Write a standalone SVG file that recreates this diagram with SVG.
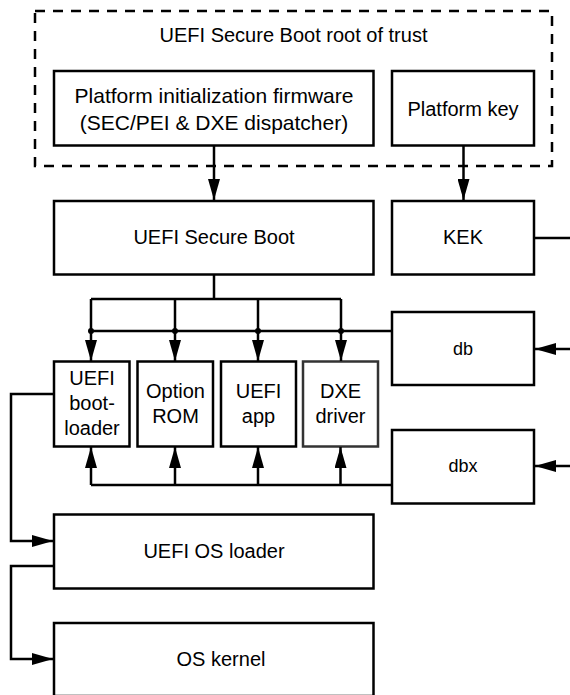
<svg xmlns="http://www.w3.org/2000/svg" width="570" height="695" viewBox="0 0 570 695">
<style>
  .box { fill: #fff; stroke: #000; stroke-width: 2.5; }
  .dash { fill: none; stroke: #000; stroke-width: 2.5; stroke-dasharray: 10 8; }
  .ln { fill: none; stroke: #000; stroke-width: 2.5; }
  .arr { marker-end: url(#ah); }
  text { font-family: "Liberation Sans", Arial, sans-serif; font-size: 20px; fill: #000; text-anchor: middle; }
  .sm { font-size: 18px; }
  .lg { font-size: 21px; }
</style>
<defs>
  <marker id="ah" markerUnits="userSpaceOnUse" markerWidth="21" markerHeight="12" refX="21" refY="6" orient="auto">
    <path d="M0,0 L21,6 L0,12 z" fill="#000"/>
  </marker>
</defs>
<rect width="570" height="695" fill="#fff"/>

<g id="root-of-trust">
  <rect class="dash" x="35" y="11" width="517" height="155"/>
  <text x="293.5" y="42">UEFI Secure Boot root of trust</text>
</g>
<g id="platform-init">
  <rect class="box" x="54" y="71" width="319.5" height="74.5"/>
  <text class="lg" x="214" y="103">Platform initialization firmware</text>
  <text class="lg" x="214" y="130">(SEC/PEI &amp; DXE dispatcher)</text>
</g>
<g id="platform-key">
  <rect class="box" x="392" y="71" width="142" height="74.5"/>
  <text x="463" y="116">Platform key</text>
</g>
<g id="secure-boot">
  <rect class="box" x="54" y="201" width="319.5" height="73.5"/>
  <text x="214" y="244">UEFI Secure Boot</text>
</g>
<g id="kek">
  <rect class="box" x="392" y="201" width="142" height="73.5"/>
  <text x="463" y="244">KEK</text>
</g>
<g id="db">
  <rect class="box" x="392" y="312" width="142" height="73"/>
  <text class="sm" x="463" y="355">db</text>
</g>
<g id="dbx">
  <rect class="box" x="392" y="430" width="142" height="73.5"/>
  <text class="sm" x="463" y="472">dbx</text>
</g>
<g id="bootloader">
  <rect class="box" x="54" y="361.5" width="75.5" height="85"/>
  <text x="92" y="385">UEFI</text>
  <text x="92" y="410">boot-</text>
  <text x="92" y="435">loader</text>
</g>
<g id="option-rom">
  <rect class="box" x="137.5" y="361.5" width="75.5" height="85"/>
  <text x="175.5" y="398">Option</text>
  <text x="175.5" y="423">ROM</text>
</g>
<g id="uefi-app">
  <rect class="box" x="221" y="361.5" width="75" height="85"/>
  <text x="258.5" y="398">UEFI</text>
  <text x="258.5" y="423">app</text>
</g>
<g id="dxe-driver">
  <rect class="box" x="303" y="361.5" width="75" height="85" style="stroke:#333"/>
  <text x="340.5" y="398">DXE</text>
  <text x="340.5" y="423">driver</text>
</g>
<g id="os-loader">
  <rect class="box" x="54" y="514.5" width="319.5" height="74"/>
  <text x="214" y="558">UEFI OS loader</text>
</g>
<g id="os-kernel">
  <rect class="box" x="54" y="623" width="319.5" height="73"/>
  <text x="221" y="666">OS kernel</text>
</g>

<g id="connectors">
  <path class="ln arr" d="M214,146 V200"/>
  <path class="ln arr" d="M463.5,146 V200"/>
  <path class="ln" d="M534,238 H570"/>
  <path class="ln" d="M214,274.5 V299 M91,299 H341"/>
  <path class="ln" d="M91,331 H392"/>
  <path class="ln arr" d="M91,299 V361"/>
  <path class="ln arr" d="M175,299 V361"/>
  <path class="ln arr" d="M258,299 V361"/>
  <path class="ln arr" d="M341,299 V361"/>
  <circle cx="91" cy="331" r="3"/>
  <circle cx="175" cy="331" r="3"/>
  <circle cx="258" cy="331" r="3"/>
  <circle cx="341" cy="331" r="3"/>
  <path class="ln arr" d="M570,349 H535"/>
  <path class="ln arr" d="M570,466 H535"/>
  <path class="ln" d="M392,485 H91"/>
  <path class="ln arr" d="M91,485 V447"/>
  <path class="ln arr" d="M175,485 V447"/>
  <path class="ln arr" d="M258,485 V447"/>
  <path class="ln arr" d="M340.5,485 V447"/>
  <path class="ln arr" d="M54,394 H11 V541 H53"/>
  <path class="ln arr" d="M54,566 H11 V659 H53"/>
</g>
</svg>
